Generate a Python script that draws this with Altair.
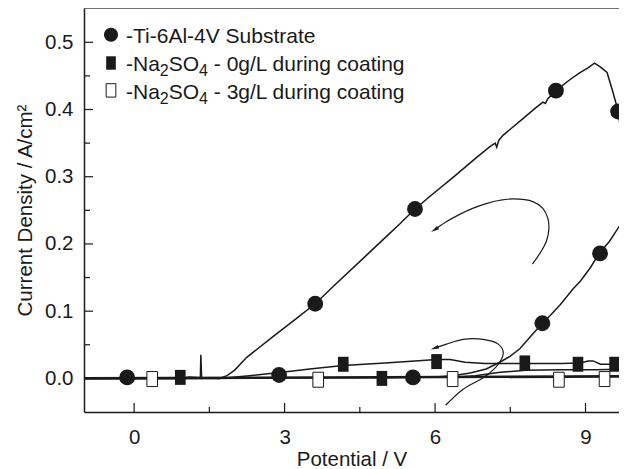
import altair as alt
import pandas as pd

FONT = "Liberation Sans"
INK = "#1a1a1a"

# ---------------- data ----------------
# Ti-6Al-4V substrate: full scan path (potential V, current density A/cm2)
sub_path = [(-1.0, 0.0), (0.0, 0.0), (1.0, 0.0), (1.5, 0.0), (1.7, 0.0), (1.85, 0.004), (2.0, 0.012),
            (2.24, 0.031), (2.8, 0.064), (3.2, 0.087), (3.61, 0.111), (4.0, 0.139), (4.63, 0.183),
            (5.0, 0.209), (5.3, 0.230), (5.6, 0.252), (5.9, 0.271), (6.36, 0.299), (6.8, 0.327),
            (7.1, 0.345), (7.2, 0.350), (7.23, 0.344), (7.27, 0.354), (7.36, 0.362), (7.7, 0.383),
            (8.0, 0.402), (8.15, 0.411), (8.2, 0.409), (8.25, 0.416), (8.41, 0.428), (8.7, 0.445),
            (8.89, 0.455), (9.05, 0.462), (9.18, 0.469), (9.3, 0.463), (9.43, 0.455), (9.55, 0.425),
            (9.65, 0.398), (9.72, 0.360), (9.78, 0.326), (9.84, 0.300), (9.86, 0.280), (9.80, 0.262),
            (9.68, 0.227), (9.48, 0.204), (9.28, 0.187), (9.1, 0.165), (8.9, 0.145), (8.75, 0.133),
            (8.5, 0.110), (8.3, 0.094), (8.14, 0.082), (7.9, 0.062), (7.69, 0.044), (7.5, 0.033),
            (7.29, 0.024), (7.02, 0.014), (6.7, 0.008), (6.36, 0.004), (6.0, 0.002), (5.0, 0.001),
            (3.0, 0.001), (0.0, 0.0), (-1.0, 0.0)]
sub_mark_x = [-0.14, 2.89, 3.61, 5.56, 5.60, 8.41, 9.65, 9.29, 8.14]
sub_mark_y = [0.0015, 0.005, 0.111, 0.0015, 0.252, 0.428, 0.397, 0.186, 0.082]

# Na2SO4 0 g/L during coating
na0_path = [(-1.0, 0.0), (0.9, 0.0), (1.1, 0.002), (1.32, 0.001), (1.33, 0.035), (1.345, 0.001),
            (1.7, 0.0), (2.3, 0.004), (2.95, 0.009), (3.5, 0.014), (4.17, 0.019), (5.0, 0.023),
            (5.6, 0.026), (6.03, 0.028), (6.3, 0.028), (6.6, 0.024), (7.0, 0.022), (7.5, 0.022),
            (8.0, 0.022), (8.5, 0.022), (8.9, 0.023), (9.05, 0.026), (9.15, 0.026), (9.3, 0.021),
            (9.6, 0.021), (9.9, 0.021)]
na0_return = [(6.3, 0.001), (6.8, 0.004), (7.3, 0.009), (7.8, 0.012), (8.5, 0.013), (9.2, 0.013),
              (9.9, 0.014)]
na0_mark_x = [0.92, 4.17, 4.94, 6.03, 7.79, 8.85, 9.58]
na0_mark_y = [0.0015, 0.021, 0.0, 0.025, 0.023, 0.021, 0.021]

# Na2SO4 3 g/L during coating
na3_path = [(-1.0, 0.0), (9.9, 0.003)]
na3_mark_x = [0.36, 3.67, 6.35, 8.47, 9.38]
na3_mark_y = [-0.001, -0.002, -0.001, -0.002, -0.001]

# annotation arrows (scan direction)
arrow_big = [(7.94, 0.170), (8.10, 0.187), (8.22, 0.204), (8.27, 0.222), (8.25, 0.238),
             (8.15, 0.253), (7.95, 0.263), (7.56, 0.267), (7.30, 0.265), (7.02, 0.260),
             (6.75, 0.253), (6.49, 0.244), (6.20, 0.232), (5.99, 0.221)]
arrow_small = [(6.21, -0.040), (6.56, -0.016), (7.02, 0.004), (7.29, 0.024), (7.36, 0.039),
               (7.26, 0.051), (6.96, 0.058), (6.56, 0.058), (6.23, 0.051), (5.99, 0.045)]
arrow_head_x = [5.99, 5.99]
arrow_head_y = [0.221, 0.045]
arrow_head_angle = [238, 250]

x_major = [0, 3, 6, 9]
x_minor = [1.5, 4.5, 7.5]
y_major = [0.0, 0.1, 0.2, 0.3, 0.4, 0.5]
y_minor = [0.05, 0.15, 0.25, 0.35, 0.45]

legend_label_sub = "-Ti-6Al-4V Substrate"
legend_label_na = ["-Na", "2", "SO", "4"]
legend_label_conc = ["- 0g/L during coating", "- 3g/L during coating"]

# ---------------- chart ----------------
W, H = 535, 404
xs = alt.Scale(domain=[-1.0, 9.668], nice=False, zero=False)
ys = alt.Scale(domain=[-0.05, 0.551], nice=False, zero=False)

X_AXIS = alt.Axis(values=x_major, ticks=False, grid=False, labelPadding=15,
                  titleY=37.5, titleBaseline="top", domainWidth=1.5)
Y_AXIS = alt.Axis(values=y_major, format=".1f", ticks=False, grid=False, labelPadding=11,
                  titleX=-59, titleY=H / 2, titleAngle=-90, titleBaseline="middle",
                  titleAlign="center", domainWidth=1.5)
X_TITLE = "Potential / V"
Y_TITLE = "Current Density / A/cm\u00b2"


def X(f="x"):
    return alt.X(f"{f}:Q", scale=xs, axis=X_AXIS, title=X_TITLE)


def Y(f="y"):
    return alt.Y(f"{f}:Q", scale=ys, axis=Y_AXIS, title=Y_TITLE)


def path_df(pairs, name):
    return pd.DataFrame({"x": [p[0] for p in pairs], "y": [p[1] for p in pairs],
                         "seg": name, "i": list(range(len(pairs)))})


thin = pd.concat([path_df(sub_path, "sub"), path_df(na0_path, "na0"),
                  path_df(na0_return, "na0r")])
arrows = pd.concat([path_df(arrow_big, "a1"), path_df(arrow_small, "a2")])
thick = path_df(na3_path, "na3")

main = alt.Chart(thin).mark_line(color=INK, strokeWidth=1.5, clip=True).encode(
    x=X(), y=Y(), detail="seg:N", order="i:Q")

zero_line = alt.Chart(thick).mark_line(color=INK, strokeWidth=2.6, clip=True).encode(
    x=X(), y=Y(), detail="seg:N", order="i:Q")

arrow_lines = alt.Chart(arrows).mark_line(color=INK, strokeWidth=1.2, interpolate="catmull-rom",
                                          clip=True).encode(
    x=X(), y=Y(), detail="seg:N", order="i:Q")

heads = alt.Chart(pd.DataFrame({"x": arrow_head_x, "y": arrow_head_y, "a": arrow_head_angle})).mark_point(
    shape="M0,-1L0.45,1L-0.45,1Z", filled=True, color=INK, size=70, opacity=1).encode(
    x=X(), y=Y(), angle=alt.Angle("a:Q", scale=None))

sub_pts = alt.Chart(pd.DataFrame({"x": sub_mark_x, "y": sub_mark_y})).mark_point(
    shape="circle", filled=True, color=INK, size=250, opacity=1).encode(x=X(), y=Y())

RECT = "M-0.71,-1L0.71,-1L0.71,1L-0.71,1Z"
na0_pts = alt.Chart(pd.DataFrame({"x": na0_mark_x, "y": na0_mark_y})).mark_point(
    shape=RECT, filled=True, color=INK, size=225, opacity=1).encode(x=X(), y=Y())
na3_pts = alt.Chart(pd.DataFrame({"x": na3_mark_x, "y": na3_mark_y})).mark_point(
    shape=RECT, filled=True, fill="white", stroke=INK, strokeWidth=1, size=225, opacity=1).encode(
    x=X(), y=Y())


# inward ticks
def vticks(vals, length):
    return alt.Chart(pd.DataFrame({"x": vals})).mark_rule(color=INK, strokeWidth=1.2).encode(
        x=X(), y=alt.value(H), y2=alt.value(H - length))


def hticks(vals, length):
    return alt.Chart(pd.DataFrame({"y": vals})).mark_rule(color=INK, strokeWidth=1.2).encode(
        y=Y(), x=alt.value(0), x2=alt.value(length))


one = pd.DataFrame({"k": [0]})
top_border = alt.Chart(one).mark_rule(color="#444", strokeWidth=1.5).encode(
    x=alt.value(0), x2=alt.value(W), y=alt.value(0))

# legend
LEG_FS, SUB_FS = 21, 16
leg_circle = alt.Chart(one).mark_point(shape="circle", filled=True, color=INK, size=200,
                                       opacity=1).encode(x=alt.value(27), y=alt.value(26.7))
leg_fill = alt.Chart(one).mark_point(shape="M-0.72,-1L0.72,-1L0.72,1L-0.72,1Z", filled=True,
                                     color=INK, size=180, opacity=1).encode(
    x=alt.value(27), y=alt.value(55))
leg_open = alt.Chart(one).mark_point(shape="M-0.72,-1L0.72,-1L0.72,1L-0.72,1Z", filled=True,
                                     fill="white", stroke=INK, strokeWidth=1, size=180,
                                     opacity=1).encode(x=alt.value(27), y=alt.value(82.4))


def txt(t, x, y, fs=LEG_FS, dy=0):
    return alt.Chart(one).mark_text(align="left", baseline="alphabetic", font=FONT,
                                    fontSize=fs, color=INK, dy=dy).encode(
        x=alt.value(x), y=alt.value(y), text=alt.value(t))


leg_texts = [txt(legend_label_sub, 42, 35)]
# widths (Arial metrics) of the pieces of "-Na2SO4 "
w_na = 1.611 * LEG_FS
w_sub = 0.556 * SUB_FS
w_so = 1.445 * LEG_FS
w_space = 0.278 * LEG_FS
for conc, base in zip(legend_label_conc, [63.4, 90.7]):
    x0 = 42
    leg_texts += [
        txt(legend_label_na[0], x0, base),
        txt(legend_label_na[1], x0 + w_na, base, SUB_FS, 5),
        txt(legend_label_na[2], x0 + w_na + w_sub, base),
        txt(legend_label_na[3], x0 + w_na + w_sub + w_so, base, SUB_FS, 5),
        txt(conc, x0 + w_na + 2 * w_sub + w_so + w_space, base),
    ]

chart = alt.layer(
    main, zero_line, arrow_lines, heads, sub_pts, na0_pts, na3_pts,
    vticks(x_major, 9), vticks(x_minor, 5), hticks(y_major, 9), hticks(y_minor, 6),
    top_border, leg_circle, leg_fill, leg_open, *leg_texts
).properties(
    width=W, height=H, autosize="none",
    padding={"left": 76, "top": 0, "right": 0, "bottom": 57}
).configure_view(stroke=None).configure_axis(
    labelFont=FONT, titleFont=FONT, labelFontSize=20.5, titleFontSize=20.5,
    titleFontWeight="normal", labelColor=INK, titleColor=INK, domainColor=INK
)

chart.save("out.html", embed_options={"renderer": "svg", "actions": False})
